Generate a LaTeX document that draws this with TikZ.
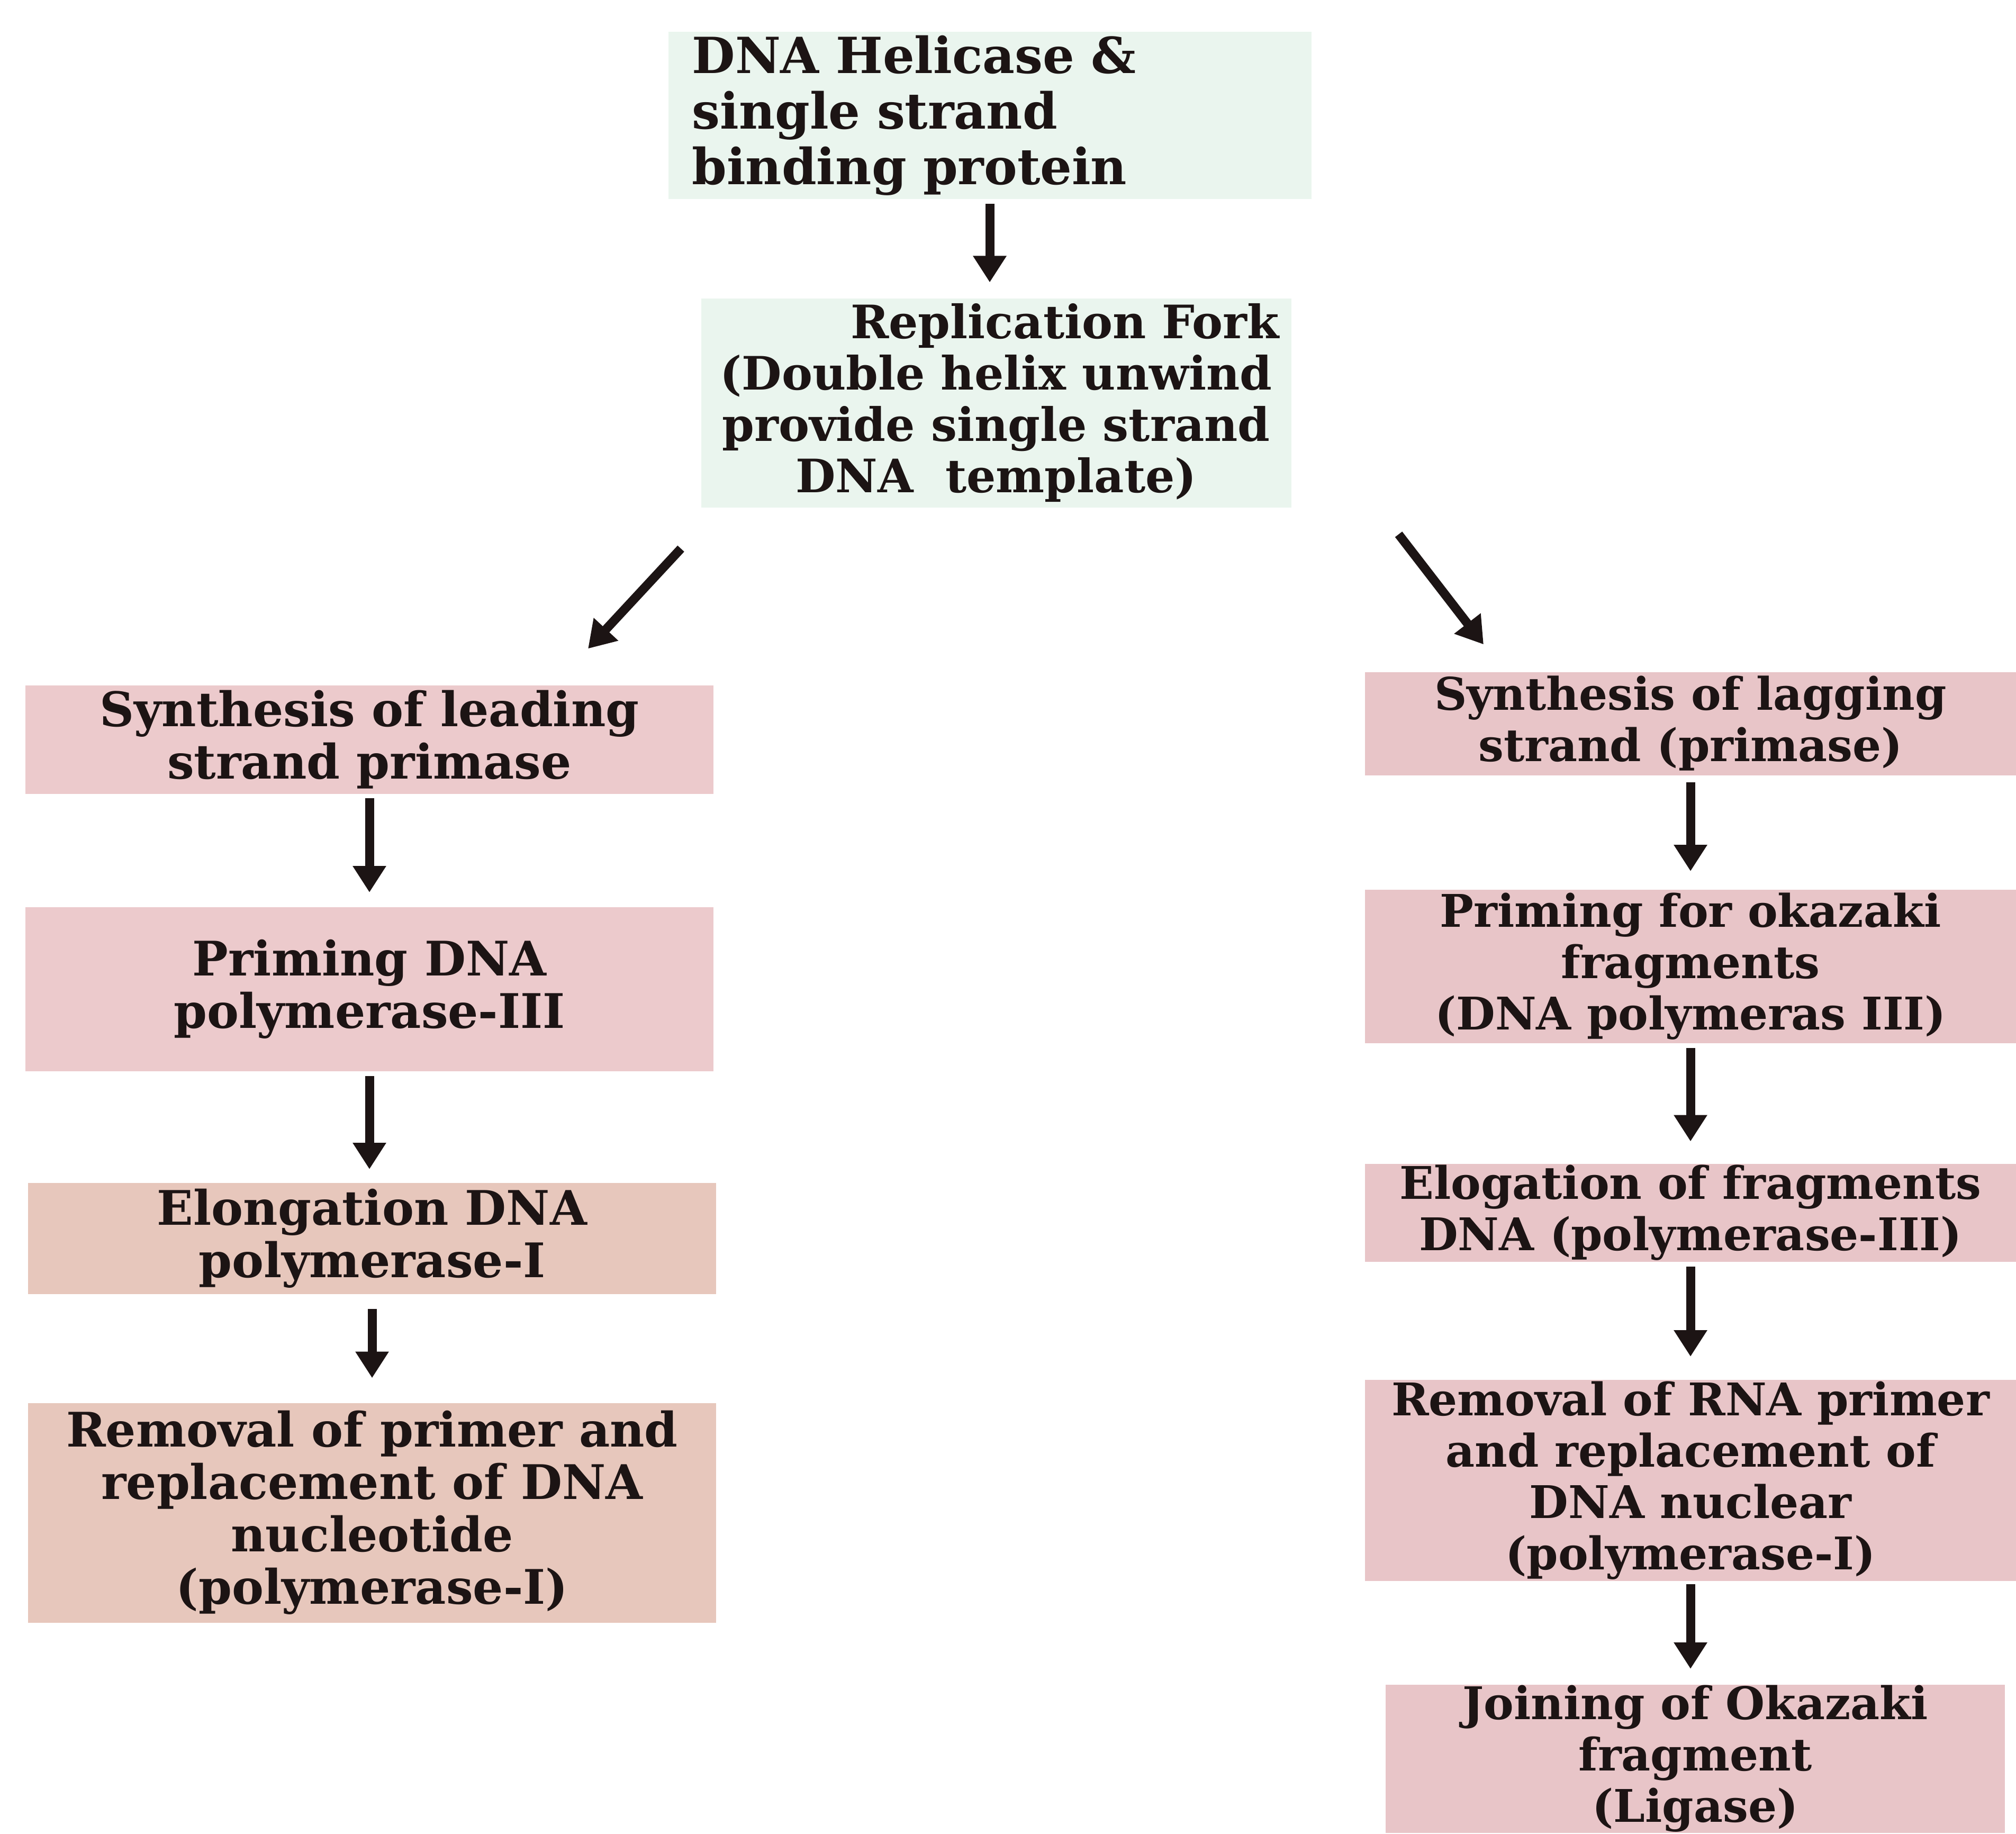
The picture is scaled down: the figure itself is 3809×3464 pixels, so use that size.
\documentclass[tikz,border=0pt]{standalone}
\usepackage{fontspec}
\setmainfont{DejaVu Serif}
\usetikzlibrary{arrows.meta,calc}
\definecolor{mint}{RGB}{234,245,238}
\definecolor{pinkbox}{RGB}{236,202,204}
\definecolor{tanbox}{RGB}{231,199,188}
\definecolor{rosebox}{RGB}{232,197,200}
\definecolor{ink}{RGB}{28,20,20}
\begin{document}
\begin{tikzpicture}[x=0.2pt,y=-0.2pt,
  box/.style={rectangle, inner sep=0pt, align=center, text=ink,
    font=\bfseries\fontsize{17}{19.4}\selectfont},
  leftbox/.style={box, font=\bfseries\fontsize{18}{19.8}\selectfont},
  arr/.style={-{Triangle[width=12pt,length=10pt]}, line width=3.4pt, draw=ink}]
\useasboundingbox (0,0) rectangle (3809,3464);
\fill[white] (0,0) rectangle (3809,3464);

% top
\node[box, fill=mint, minimum width=243pt, minimum height=63pt, text width=225pt, align=left,
  font=\bfseries\fontsize{18.8}{21}\selectfont] (top) at (1870,218)
  {DNA Helicase \&\\single strand\\binding protein};
\node[box, fill=mint, minimum width=223pt, minimum height=79pt,
  font=\bfseries\fontsize{17.4}{19.4}\selectfont] (rep) at (1882,761)
  {\hspace*{52pt}Replication Fork\\(Double helix unwind\\provide single strand\\DNA\ \ template)};

% left column
\node[leftbox, fill=pinkbox, minimum width=260pt, minimum height=41pt] (L1) at (698,1397)
  {Synthesis of leading\\strand primase};
\node[leftbox, fill=pinkbox, minimum width=260pt, minimum height=62pt] (L2) at (698,1869)
  {Priming DNA\\polymerase-III};
\node[leftbox, fill=tanbox, minimum width=260pt, minimum height=42pt] (L3) at (703,2340)
  {Elongation DNA\\polymerase-I};
\node[leftbox, fill=tanbox, minimum width=260pt, minimum height=83pt] (L4) at (703,2858)
  {Removal of primer and\\replacement of DNA\\nucleotide\\(polymerase-I)};

% right column
\node[box, fill=rosebox, minimum width=246pt, minimum height=39pt] (R1) at (3194,1367)
  {Synthesis of lagging\\strand (primase)};
\node[box, fill=rosebox, minimum width=246pt, minimum height=58pt] (R2) at (3194,1826)
  {Priming for okazaki\\fragments\\(DNA polymeras III)};
\node[box, fill=rosebox, minimum width=246pt, minimum height=37pt] (R3) at (3194,2291)
  {Elogation of fragments\\DNA (polymerase-III)};
\node[box, fill=rosebox, minimum width=246pt, minimum height=76pt] (R4) at (3194,2797)
  {Removal of RNA primer\\and replacement of\\DNA nuclear\\(polymerase-I)};
\node[box, fill=rosebox, minimum width=234pt, minimum height=56pt] (R5) at (3203,3323)
  {Joining of Okazaki\\fragment\\(Ligase)};

% arrows
\draw[arr, shorten <=1.6pt, shorten >=5.8pt] (top.south) -- (top.south |- rep.north);
\draw[arr] ([xshift=-7.4pt,yshift=-15.4pt]rep.south west) -- ([xshift=-47.6pt,yshift=13.6pt]L1.north east);
\draw[arr] ([xshift=40.4pt,yshift=-10pt]rep.south east) -- ([xshift=45pt,yshift=10.2pt]R1.north west);

\draw[arr, shorten <=1.4pt, shorten >=5.4pt] (L1.south) -- (L1.south |- L2.north);
\draw[arr, shorten <=1.6pt, shorten >=5pt] (L2.south) -- (L2.south |- L3.north);
\draw[arr, shorten <=5.4pt, shorten >=9.2pt] (L3.south) -- (L3.south |- L4.north);

\draw[arr, shorten <=2.4pt, shorten >=6.8pt] (R1.south) -- (R1.south |- R2.north);
\draw[arr, shorten <=1.6pt, shorten >=8.2pt] (R2.south) -- (R2.south |- R3.north);
\draw[arr, shorten <=1.6pt, shorten >=8.6pt] (R3.south) -- (R3.south |- R4.north);
\draw[arr, shorten <=1pt, shorten >=5.8pt] (R4.south) -- (R4.south |- R5.north);
\end{tikzpicture}
\end{document}
